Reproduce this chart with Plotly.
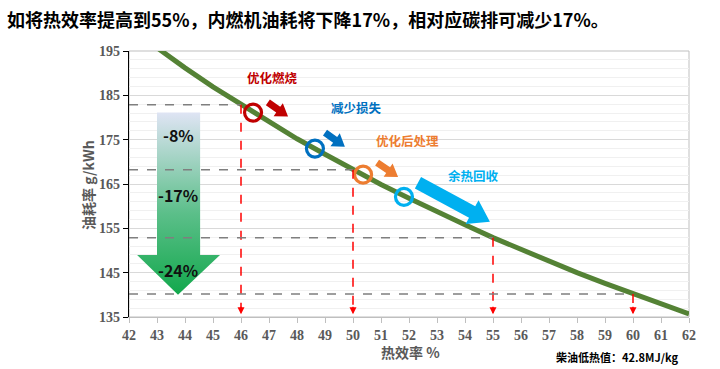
import plotly.graph_objects as go

# ---------------- data ----------------
eff = [42, 43, 44, 45, 46, 47, 48, 49, 50, 51, 52, 53, 54, 55, 56, 57, 58, 59, 60, 61, 62]
bsfc = [200.3, 195.6, 191.2, 186.9, 182.9, 179.0, 175.2, 171.7, 168.2, 164.9, 161.8,
        158.7, 155.8, 152.9, 150.2, 147.6, 145.0, 142.6, 140.2, 137.9, 135.7]

ref_eff = [46, 50, 55, 60]
ref_bsfc = [182.9, 168.2, 152.9, 140.2]

step_names = ["优化燃烧", "减少损失", "优化后处理", "余热回收"]
step_eff = [46.43, 48.64, 50.36, 51.82]
step_bsfc = [181.1, 173.0, 167.1, 162.1]
step_colors = ["#c00000", "#0070c0", "#ed7d31", "#00b0f0"]
label_x = [47.14, 50.14, 51.96, 54.32]
label_y = [189.0, 182.2, 174.8, 166.9]
arrow_start = [(46.96, 183.4), (49.0, 176.6), (50.86, 169.8), (52.32, 165.3)]
arrow_end = [(47.68, 180.2), (49.71, 173.4), (51.61, 166.6), (54.89, 156.5)]
arrow_shaft = [7, 7, 7, 13]
arrow_head = [16, 16, 16, 27]

drop_labels = ["-8%", "-17%", "-24%"]
drop_y = [176.1, 162.6, 145.6]

x_ticks = list(range(42, 63))
y_ticks = [135, 145, 155, 165, 175, 185, 195]

# ---------------- geometry helpers ----------------
W, H = 720, 369
ML, MR, MT, MB = 129, 31, 51, 52
XMIN, XMAX, YMIN, YMAX = 42, 62, 135, 195
PW, PH = W - ML - MR, H - MT - MB
PX_X = PW / (XMAX - XMIN)
PX_Y = PH / (YMAX - YMIN)


def px2paper(px, py):
    return (px - ML) / PW, (H - MB - py) / PH


def block_arrow(p0, p1, shaft, head):
    import math
    x0, y0 = p0[0] * PX_X, -p0[1] * PX_Y
    x1, y1 = p1[0] * PX_X, -p1[1] * PX_Y
    L = math.hypot(x1 - x0, y1 - y0)
    ux, uy = (x1 - x0) / L, (y1 - y0) / L
    nx, ny = -uy, ux
    hl = min(head * 0.75, L * 0.6)
    bx, by = x1 - ux * hl, y1 - uy * hl
    pts = [
        (x0 + nx * shaft / 2, y0 + ny * shaft / 2),
        (bx + nx * shaft / 2, by + ny * shaft / 2),
        (bx + nx * head / 2, by + ny * head / 2),
        (x1, y1),
        (bx - nx * head / 2, by - ny * head / 2),
        (bx - nx * shaft / 2, by - ny * shaft / 2),
        (x0 - nx * shaft / 2, y0 - ny * shaft / 2),
    ]
    return [p[0] / PX_X for p in pts], [-p[1] / PX_Y for p in pts]


fig = go.Figure()

# big gradient arrow
bx = [43.0, 44.54, 44.54, 45.25, 43.75, 42.29, 43.0, 43.0]
by = [181.1, 181.1, 149.0, 149.0, 140.0, 149.0, 149.0, 181.1]
fig.add_trace(go.Scatter(
    x=bx, y=by, mode="lines", fill="toself", line=dict(width=0, color="rgba(0,0,0,0)"),
    fillgradient=dict(type="vertical", colorscale=[[0, "#12a84c"], [0.45, "#5cbf8a"], [1, "#dfe4f4"]]),
    hoverinfo="skip", showlegend=False))

shapes = []
for e, b in zip(ref_eff, ref_bsfc):
    shapes.append(dict(type="line", xref="x", yref="y", x0=XMIN, x1=e, y0=b, y1=b,
                       line=dict(color="#7f7f7f", width=1.5, dash="dash")))
    shapes.append(dict(type="line", xref="x", yref="y", x0=e, x1=e, y0=b, y1=136.0,
                       line=dict(color="#ff0000", width=1.5, dash="dash")))

shapes.append(dict(type="rect", xref="paper", yref="paper", x0=0, x1=1, y0=0, y1=1,
                   line=dict(color="#bfbfbf", width=1), layer="below"))

fig.add_trace(go.Scatter(x=eff, y=bsfc, mode="lines", line=dict(color="#548235", width=5),
                         hoverinfo="skip", showlegend=False))

for i in range(4):
    ax_, ay_ = block_arrow(arrow_start[i], arrow_end[i], arrow_shaft[i], arrow_head[i])
    fig.add_trace(go.Scatter(x=ax_, y=ay_, mode="lines", fill="toself",
                             fillcolor=step_colors[i], line=dict(width=0, color=step_colors[i]),
                             hoverinfo="skip", showlegend=False))

for i in range(4):
    fig.add_trace(go.Scatter(x=[step_eff[i]], y=[step_bsfc[i]], mode="markers",
                             marker=dict(symbol="circle-open", size=17,
                                         line=dict(color=step_colors[i], width=3.2),
                                         color=step_colors[i]),
                             hoverinfo="skip", showlegend=False))

annotations = []
for i in range(4):
    annotations.append(dict(x=label_x[i], y=label_y[i], xref="x", yref="y", text=step_names[i],
                            showarrow=False,
                            font=dict(family="Noto Sans CJK SC", size=12.5, color=step_colors[i],
                                      weight="bold")))
for t, yv in zip(drop_labels, drop_y):
    annotations.append(dict(x=43.75, y=yv, xref="x", yref="y", text=t, showarrow=False,
                            font=dict(family="Noto Sans CJK SC", size=16, color="#111111",
                                      weight="bold")))
for e in ref_eff:
    annotations.append(dict(x=e, y=135.6, xref="x", yref="y", text="", showarrow=True,
                            ax=0, ay=-9, arrowhead=2, arrowsize=1, arrowwidth=1.4,
                            arrowcolor="#ff0000"))

tx, ty = px2paper(5, 19)
annotations.append(dict(x=tx, y=ty, xref="paper", yref="paper", xanchor="left", yanchor="middle",
                        text="如将热效率提高到55%，内燃机油耗将下降17%，相对应碳排可减少17%。",
                        showarrow=False,
                        font=dict(family="Noto Sans CJK SC", size=18, color="#000000", weight="bold")))
tx, ty = px2paper(88, 185)
annotations.append(dict(x=tx, y=ty, xref="paper", yref="paper", text="油耗率 g/kWh", textangle=-90,
                        showarrow=False, xanchor="center", yanchor="middle",
                        font=dict(family="Noto Sans CJK SC", size=14, color="#595959", weight="bold")))
tx, ty = px2paper(410, 352)
annotations.append(dict(x=tx, y=ty, xref="paper", yref="paper", text="热效率 %", showarrow=False,
                        xanchor="center", yanchor="middle",
                        font=dict(family="Noto Sans CJK SC", size=14, color="#595959", weight="bold")))
tx, ty = px2paper(680, 357)
annotations.append(dict(x=tx, y=ty, xref="paper", yref="paper", text="柴油低热值：42.8MJ/kg",
                        showarrow=False, xanchor="right", yanchor="middle",
                        font=dict(family="Noto Sans CJK SC", size=11, color="#000000", weight="bold")))

fig.update_layout(
    width=W, height=H, margin=dict(l=ML, r=MR, t=MT, b=MB),
    paper_bgcolor="white", plot_bgcolor="white",
    shapes=shapes, annotations=annotations, showlegend=False,
    xaxis=dict(range=[XMIN, XMAX], tickvals=x_ticks, ticktext=[str(v) for v in x_ticks],
               showgrid=False, zeroline=False, showline=True, linecolor="#bfbfbf", linewidth=1,
               ticks="outside", ticklen=5, tickcolor="#bfbfbf",
               tickfont=dict(family="Liberation Serif", size=14, color="#595959", weight="bold")),
    yaxis=dict(range=[YMIN, YMAX], tickvals=y_ticks, ticktext=[str(v) for v in y_ticks],
               showgrid=True, gridcolor="#d9d9d9", gridwidth=1, zeroline=False,
               showline=True, linecolor="#000000", linewidth=1.2,
               ticks="outside", ticklen=5, tickcolor="#000000",
               tickfont=dict(family="Liberation Serif", size=14, color="#595959", weight="bold"),
               minor=dict(dtick=2, tick0=135, showgrid=True, gridcolor="#f0f0f0", gridwidth=1)),
)

fig.write_html("out.html", config={"displayModeBar": False},
               post_script="document.body.style.margin='0';document.body.style.padding='0';")
